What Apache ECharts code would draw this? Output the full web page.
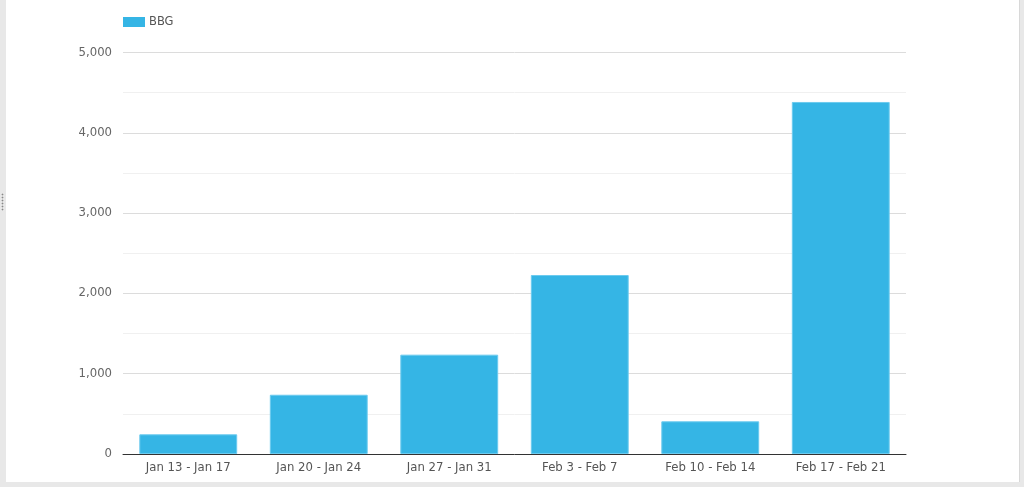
<!DOCTYPE html>
<html>
<head>
<meta charset="utf-8">
<script src="https://cdn.jsdelivr.net/npm/echarts@6/dist/echarts.min.js"></script>
<style>
html,body{margin:0;padding:0;width:1024px;height:487px;overflow:hidden;background:#e8e8e8;}
#frame{position:absolute;left:6px;top:0;width:1013px;height:482px;background:#fff;border-right:1px solid #d8d8d8;}
#handle{position:absolute;left:1px;top:193px;width:3px;height:18px;
  background-image:radial-gradient(circle,#888 0.8px,transparent 1.1px);background-size:3px 3px;}
#chart{position:absolute;left:0;top:0;width:1024px;height:487px;}
</style>
</head>
<body>
<div id="frame"></div>
<div id="handle"></div>
<div id="chart"></div>
<script>
const categories = ['Jan 13 - Jan 17','Jan 20 - Jan 24','Jan 27 - Jan 31','Feb 3 - Feb 7','Feb 10 - Feb 14','Feb 17 - Feb 21'];
const seriesName = 'BBG';
const bbgValues = [245, 738, 1237, 2229, 407, 4384];

const chart = echarts.init(document.getElementById('chart'), null, {renderer:'canvas'});
const font = 'Verdana, "DejaVu Sans", sans-serif';
chart.setOption({
  backgroundColor: 'transparent',
  animation: false,
  legend: {
    left: 118, top: 11, padding: 5,
    itemWidth: 22, itemHeight: 10, itemGap: 10,
    icon: 'rect',
    itemStyle: {borderWidth: 0},
    textStyle: {color:'#555', fontSize:11.5, fontFamily:font, padding:[0,0,0,-1]},
    data: [seriesName]
  },
  grid: {left:123, right:118, top:52.5, bottom:33, containLabel:false},
  xAxis: {
    type:'category', data:categories,
    axisTick:{show:false},
    axisLine:{lineStyle:{color:'#333', width:1}},
    axisLabel:{color:'#555', fontSize:11.7, fontFamily:font, margin:8}
  },
  yAxis: {
    type:'value', min:0, max:5000, interval:1000,
    axisLine:{show:false}, axisTick:{show:false},
    axisLabel:{color:'#666', fontSize:11.7, fontFamily:font, margin:11,
      formatter: v => v.toLocaleString('en-US')},
    splitLine:{lineStyle:{color:'#dcdcdc', width:1}},
    minorTick:{show:false, splitNumber:2},
    minorSplitLine:{show:true, lineStyle:{color:'#f0f0f0', width:1}}
  },
  series: [{
    name: seriesName, type:'bar', data: bbgValues,
    barWidth:'75%',
    itemStyle:{color:'#35b5e5', borderColor:'#6ccbef', borderWidth:1}
  }]
});
</script>
</body>
</html>
